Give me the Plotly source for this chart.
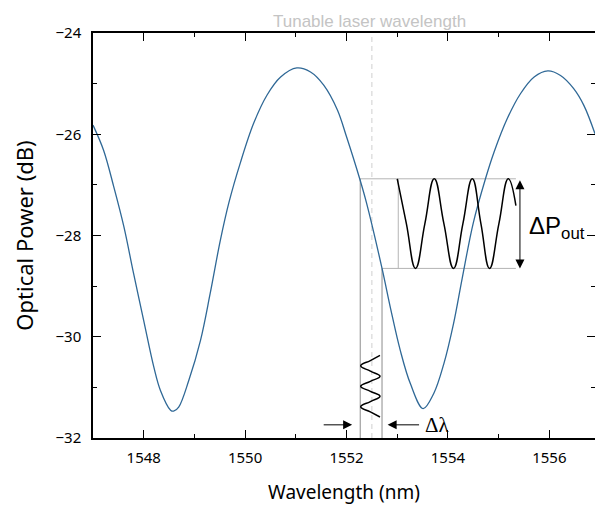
import plotly.graph_objects as go

# ---- main transmission curve ----
wavelength = [1547.0, 1547.21, 1547.41, 1547.61, 1547.80, 1548.0, 1548.2, 1548.33, 1548.53, 1548.59,
              1548.69, 1548.89, 1549.12, 1549.31, 1549.51, 1549.68, 1549.91, 1550.17, 1550.43, 1550.70,
              1551.02, 1551.29, 1551.55, 1551.82, 1552.0, 1552.26, 1552.39, 1552.70, 1552.87, 1553.06,
              1553.26, 1553.51, 1553.72, 1553.92, 1554.11, 1554.28, 1554.50, 1554.74, 1554.91, 1555.17,
              1555.43, 1555.70, 1555.97, 1556.22, 1556.48, 1556.68, 1556.9]
power = [-25.82, -26.32, -27.04, -27.83, -28.75, -29.68, -30.60, -31.06, -31.45, -31.47,
         -31.39, -30.86, -30.07, -29.15, -28.10, -27.35, -26.55, -25.78, -25.23, -24.87,
         -24.69, -24.77, -25.03, -25.52, -26.05, -26.88, -27.34, -28.65, -29.45, -30.27,
         -30.93, -31.42, -31.12, -30.53, -29.74, -28.85, -27.75, -26.88, -26.35, -25.69,
         -25.20, -24.87, -24.75, -24.84, -25.10, -25.43, -25.99]

# ---- output-power oscillation (inset, horizontal) ----
pout_x = [1553.00, 1553.18, 1553.36, 1553.545, 1553.73, 1553.92, 1554.11, 1554.295,
          1554.48, 1554.65, 1554.82, 1555.005, 1555.19, 1555.34]
pout_y = [-26.88, -27.765, -28.65, -27.765, -26.88, -27.765, -28.65, -27.765,
          -26.88, -27.765, -28.65, -27.765, -26.88, -27.41]

# ---- wavelength modulation (vertical sine) ----
lam_x = [1552.66, 1552.47, 1552.28, 1552.47, 1552.66, 1552.47, 1552.28, 1552.47,
         1552.66, 1552.47, 1552.28, 1552.47, 1552.66]
lam_y = [-30.367, -30.47, -30.574, -30.68, -30.781, -30.88, -30.979, -31.078,
         -31.176, -31.28, -31.384, -31.485, -31.585]

# ---- guide lines ----
laser_wl = 1552.5
lam_low, lam_high = 1552.27, 1552.70
p_high, p_low = -26.88, -28.65
inset_left, inset_right = 1553.02, 1555.34
dp_arrow_x = 1555.42
arrow_y = -31.74
left_arrow = (1551.52, 1552.11)
right_arrow = (1553.46, 1552.81)

x_range = [1547, 1556.9]
y_range = [-32, -24]

curve_color = "#2f6896"
guide_gray = "#8c8c8c"
light_gray = "#b4b4b4"

fig = go.Figure()

# dashed laser wavelength line
fig.add_trace(go.Scatter(x=[laser_wl, laser_wl], y=y_range, mode="lines",
                         line=dict(color="#cfcfcf", width=1, dash="5px,4px"), hoverinfo="skip"))
# vertical guides
fig.add_trace(go.Scatter(x=[lam_low, lam_low], y=[y_range[0], p_high], mode="lines",
                         line=dict(color=guide_gray, width=1), hoverinfo="skip"))
fig.add_trace(go.Scatter(x=[lam_high, lam_high], y=[y_range[0], p_low], mode="lines",
                         line=dict(color=guide_gray, width=1), hoverinfo="skip"))
# horizontal guides
fig.add_trace(go.Scatter(x=[lam_low, inset_right], y=[p_high, p_high], mode="lines",
                         line=dict(color=light_gray, width=1), hoverinfo="skip"))
fig.add_trace(go.Scatter(x=[lam_high, inset_right], y=[p_low, p_low], mode="lines",
                         line=dict(color=light_gray, width=1), hoverinfo="skip"))
fig.add_trace(go.Scatter(x=[inset_left, inset_left], y=[p_high, p_low], mode="lines",
                         line=dict(color=light_gray, width=1), hoverinfo="skip"))

# main curve
fig.add_trace(go.Scatter(x=wavelength, y=power, mode="lines",
                         line=dict(color=curve_color, width=1.3, shape="spline", smoothing=1.0)))
# oscillations
fig.add_trace(go.Scatter(x=pout_x, y=pout_y, mode="lines",
                         line=dict(color="black", width=1.5, shape="spline", smoothing=1.3)))
fig.add_trace(go.Scatter(x=lam_x, y=lam_y, mode="lines",
                         line=dict(color="black", width=1.5, shape="spline", smoothing=1.3)))

annotations = [
    dict(x=1552.45, y=1, xref="x", yref="paper", yanchor="bottom", yshift=0,
         text="Tunable laser wavelength", showarrow=False,
         font=dict(family="Liberation Sans", size=17, color="#c4c4c4")),
    dict(x=1555.55, y=-27.85, xref="x", yref="y", xanchor="left", yanchor="middle",
         text="ΔP<sub>out</sub>", showarrow=False,
         font=dict(family="Liberation Sans", size=24, color="black")),
    dict(x=1553.80, y=arrow_y, xref="x", yref="y", xanchor="center", yanchor="middle",
         text="Δλ", showarrow=False,
         font=dict(family="Liberation Serif", size=21, color="black")),
    # wavelength arrows
    dict(x=left_arrow[1], y=arrow_y, ax=left_arrow[0], ay=arrow_y, xref="x", yref="y",
         axref="x", ayref="y", text="", showarrow=True, arrowhead=2, arrowsize=1.8,
         arrowwidth=1, arrowcolor="black", standoff=0),
    dict(x=right_arrow[1], y=arrow_y, ax=right_arrow[0], ay=arrow_y, xref="x", yref="y",
         axref="x", ayref="y", text="", showarrow=True, arrowhead=2, arrowsize=1.8,
         arrowwidth=1, arrowcolor="black", standoff=0),
    # power double arrow
    dict(x=dp_arrow_x, y=p_low, ax=dp_arrow_x, ay=p_high, xref="x", yref="y",
         axref="x", ayref="y", text="", showarrow=True, arrowhead=2, startarrowhead=2,
         arrowside="end+start", arrowsize=1.8, startarrowsize=1.8,
         arrowwidth=1, arrowcolor="black", standoff=0, startstandoff=0),
]

axis_common = dict(showline=True, linecolor="black", linewidth=1.5, mirror="ticks",
                   ticks="inside", ticklen=8, tickwidth=1.3, tickcolor="black",
                   showgrid=False, zeroline=False, automargin=False,
                   tickfont=dict(family="Noto Sans", size=15, color="black"))

fig.update_layout(
    width=595, height=505,
    margin=dict(l=93, r=0, t=33, b=67),
    plot_bgcolor="white", paper_bgcolor="white",
    showlegend=False,
    font=dict(family="Noto Sans", color="black"),
    annotations=annotations,
    xaxis=dict(range=x_range, tick0=1548, dtick=2, ticklabelstandoff=5,
               minor=dict(ticks="inside", ticklen=4, tickwidth=1.3, dtick=1, tick0=1547, tickcolor="black"),
               title=dict(text="Wavelength (nm)", font=dict(size=19), standoff=22),
               **axis_common),
    yaxis=dict(range=y_range, tick0=-32, dtick=2, ticklabelstandoff=7,
               minor=dict(ticks="inside", ticklen=4, tickwidth=1.3, dtick=1, tick0=-32, tickcolor="black"),
               title=dict(text="Optical Power (dB)", font=dict(size=22), standoff=16),
               **axis_common),
)

fig.write_html("out.html", config={"displayModeBar": False},
               post_script="document.body.style.margin='0px';document.body.style.overflow='hidden';")
